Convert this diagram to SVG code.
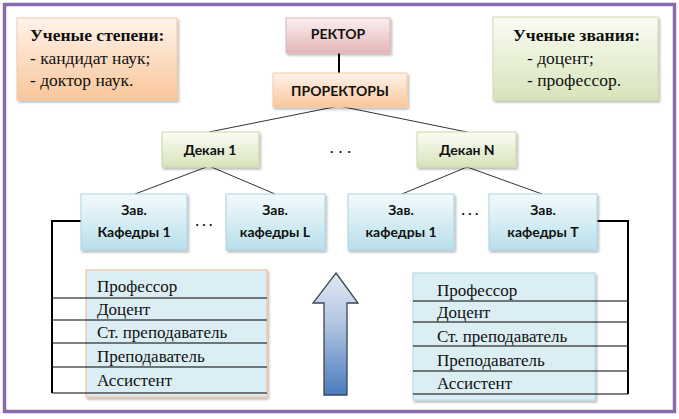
<svg xmlns="http://www.w3.org/2000/svg" width="679" height="419" viewBox="0 0 679 419">
<style>
.node{font-family:Lato,"Liberation Sans",sans-serif;font-weight:700;font-size:14px;fill:#111;text-anchor:middle}
.serif{font-family:"Liberation Serif","Times New Roman",serif;font-size:17px;fill:#111}
.box{font-size:17.5px}
.hd{font-weight:700;font-size:17.5px}
.thin{stroke:#333;stroke-width:1;fill:none}
.thick{stroke:#000;stroke-width:2;fill:none}
.row{stroke:#000;stroke-width:1.2;fill:none}
</style>
<defs>
<filter id="sh" x="-10%" y="-10%" width="125%" height="135%">
<feDropShadow dx="1.5" dy="2" stdDeviation="1.2" flood-color="#000" flood-opacity="0.28"/>
</filter>
<linearGradient id="gPink" x1="0" y1="0" x2="0" y2="1"><stop offset="0" stop-color="#fbeff0"/><stop offset="1" stop-color="#e4b6b8"/></linearGradient>
<linearGradient id="gPeach" x1="0" y1="0" x2="0" y2="1"><stop offset="0" stop-color="#fff3ea"/><stop offset="1" stop-color="#f9c69b"/></linearGradient>
<linearGradient id="gGreen" x1="0" y1="0" x2="0" y2="1"><stop offset="0" stop-color="#fafcf3"/><stop offset="1" stop-color="#d8e4bc"/></linearGradient>
<linearGradient id="gBlue" x1="0" y1="0" x2="0" y2="1"><stop offset="0" stop-color="#f3fafc"/><stop offset="1" stop-color="#b9dfea"/></linearGradient>
<linearGradient id="gArrow" x1="0" y1="0" x2="0" y2="1"><stop offset="0" stop-color="#e2e8f3"/><stop offset="0.4" stop-color="#b4c7e2"/><stop offset="1" stop-color="#4a7bbd"/></linearGradient>
</defs>
<rect x="4.5" y="4.5" width="670" height="407" fill="#fff" stroke="#8a6aaa" stroke-width="3.5"/>

<g id="connectors">
<line x1="339" y1="53" x2="339" y2="73" class="thick"/>
<polyline points="209,132 339,106 467,132" class="thin"/>
<polyline points="135,194 209,166 275,194" class="thin"/>
<polyline points="402,194 467,167 542,194" class="thin"/>
<polyline points="81,221 52,221 52,393" class="thick"/>
<polyline points="597,221 628,221 628,394" class="thick"/>
</g>

<g id="uchenye-stepeni">
<rect x="17" y="18" width="160" height="82" fill="url(#gPeach)" stroke="#f3c8a3" stroke-width="1" filter="url(#sh)"/>
<text x="30" y="41" class="serif hd">Ученые степени:</text>
<text x="30" y="64" class="serif box">- кандидат наук;</text>
<text x="30" y="86" class="serif box">- доктор наук.</text>
</g>

<g id="uchenye-zvaniya">
<rect x="493" y="17" width="165" height="83" fill="url(#gGreen)" stroke="#cfdcb0" stroke-width="1" filter="url(#sh)"/>
<text x="513" y="41" class="serif hd">Ученые звания:</text>
<text x="527" y="64" class="serif box">- доцент;</text>
<text x="527" y="86" class="serif box">- профессор.</text>
</g>

<g id="rektor">
<rect x="286" y="18" width="104" height="35" fill="url(#gPink)" stroke="#e0b3b5" stroke-width="1" filter="url(#sh)"/>
<text x="338" y="39" class="node" font-size="13.5">РЕКТОР</text>
</g>

<g id="prorektory">
<rect x="273" y="73" width="134" height="34" fill="url(#gPeach)" stroke="#f6c9a2" stroke-width="1" filter="url(#sh)"/>
<text x="340" y="95.5" class="node" font-size="13.5">ПРОРЕКТОРЫ</text>
</g>

<g id="dekan-1">
<rect x="162" y="132" width="97" height="35" fill="url(#gGreen)" stroke="#c9d7a6" stroke-width="1" filter="url(#sh)"/>
<text x="210" y="154.5" class="node">Декан 1</text>
</g>
<text x="341" y="153" class="node" font-size="14" letter-spacing="1">. . .</text>

<g id="dekan-n">
<rect x="417" y="132" width="99" height="35" fill="url(#gGreen)" stroke="#c9d7a6" stroke-width="1" filter="url(#sh)"/>
<text x="467" y="154.5" class="node">Декан N</text>
</g>

<g id="zav-kaf-1-left">
<rect x="81" y="194" width="106" height="56" fill="url(#gBlue)" stroke="#a9d4e2" stroke-width="1" filter="url(#sh)"/>
<text x="134" y="215" class="node">Зав.</text>
<text x="134" y="237" class="node">Кафедры 1</text>
</g>
<text x="204" y="226" class="node">. . .</text>

<g id="zav-kaf-l">
<rect x="226" y="194" width="99" height="56" fill="url(#gBlue)" stroke="#a9d4e2" stroke-width="1" filter="url(#sh)"/>
<text x="275" y="215" class="node">Зав.</text>
<text x="275" y="237" class="node">кафедры L</text>
</g>

<g id="zav-kaf-1-right">
<rect x="348" y="194" width="106" height="56" fill="url(#gBlue)" stroke="#a9d4e2" stroke-width="1" filter="url(#sh)"/>
<text x="401" y="215" class="node">Зав.</text>
<text x="401" y="237" class="node">кафедры 1</text>
</g>
<text x="470" y="215" class="node">. . .</text>

<g id="zav-kaf-t">
<rect x="489" y="194" width="108" height="56" fill="url(#gBlue)" stroke="#a9d4e2" stroke-width="1" filter="url(#sh)"/>
<text x="543" y="215" class="node">Зав.</text>
<text x="543" y="237" class="node">кафедры Т</text>
</g>

<g id="table-left">
<rect x="86" y="270" width="181" height="127" fill="#daeef3" stroke="#f6c39a" stroke-width="1.2" filter="url(#sh)"/>
<line x1="52" y1="298" x2="267" y2="298" class="row"/>
<line x1="52" y1="320" x2="267" y2="320" class="row"/>
<line x1="52" y1="343" x2="267" y2="343" class="row"/>
<line x1="52" y1="367" x2="267" y2="367" class="row"/>
<line x1="52" y1="393" x2="267" y2="393" class="row"/>
<text x="97" y="292" class="serif">Профессор</text>
<text x="97" y="315" class="serif">Доцент</text>
<text x="97" y="338" class="serif">Ст. преподаватель</text>
<text x="97" y="362" class="serif">Преподаватель</text>
<text x="97" y="386" class="serif">Ассистент</text>
</g>

<g id="arrow">
<polygon points="336,273 358,303 347,303 347,395 324,395 324,303 313,303" fill="url(#gArrow)" stroke="#3d4654" stroke-width="1.3" stroke-linejoin="miter"/>
</g>

<g id="table-right">
<rect x="413" y="273" width="182" height="127" fill="#daeef3" stroke="#b7dce8" stroke-width="1.2" filter="url(#sh)"/>
<line x1="413" y1="301" x2="628" y2="301" class="row"/>
<line x1="413" y1="322" x2="628" y2="322" class="row"/>
<line x1="413" y1="346" x2="628" y2="346" class="row"/>
<line x1="413" y1="371" x2="628" y2="371" class="row"/>
<line x1="413" y1="394" x2="628" y2="394" class="row"/>
<text x="437" y="296" class="serif">Профессор</text>
<text x="437" y="318" class="serif">Доцент</text>
<text x="437" y="342" class="serif">Ст. преподаватель</text>
<text x="437" y="366" class="serif">Преподаватель</text>
<text x="437" y="389" class="serif">Ассистент</text>
</g>
</svg>
